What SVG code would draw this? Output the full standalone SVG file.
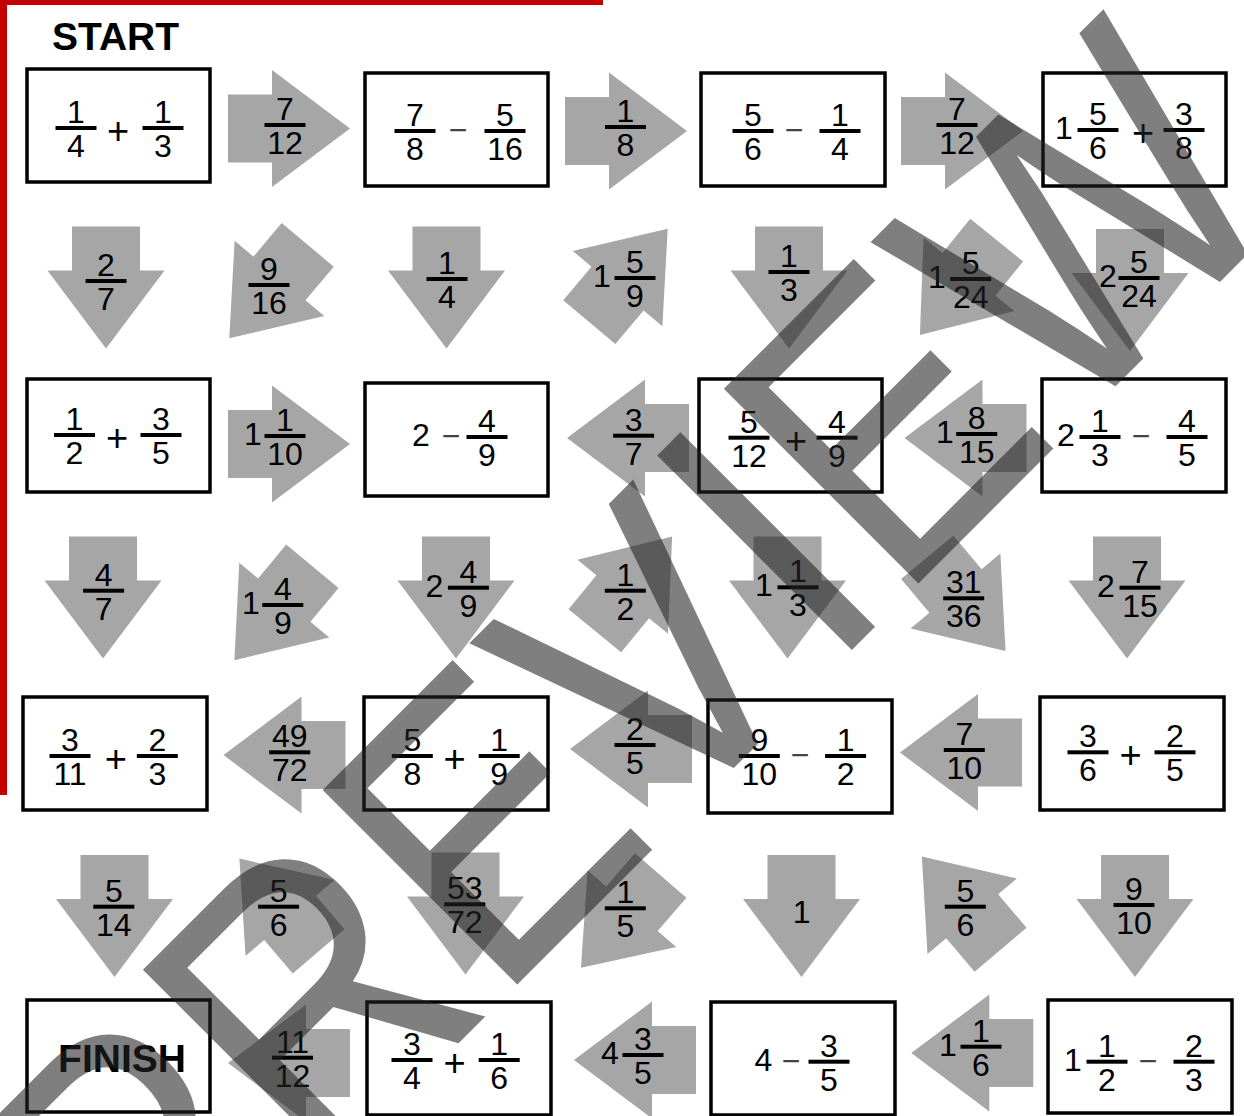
<svg xmlns="http://www.w3.org/2000/svg" xmlns:xlink="http://www.w3.org/1999/xlink" width="1244" height="1116" viewBox="0 0 1244 1116">
<style>
text{font-family:"Liberation Sans",Arial,sans-serif;font-size:32px;text-anchor:middle;fill:#000}
.bx{fill:#fff;stroke:#000;stroke-width:3.5}
.ar{fill:#a6a6a6}
.mn{fill:#444}
.pl{font-size:38px}
.h{font-weight:bold;font-size:39px}
.wm{font-size:400px;text-anchor:start;fill:#222;fill-opacity:0.58}
</style>
<defs>
<path id="ar" d="M-61,-34H-17V-58.5L61,0L-17,58.5V34H-61Z"/>
<rect id="fb" x="-20.5" y="-2" width="41" height="4" fill="#000"/>
</defs>
<rect width="1244" height="1116" fill="#fff"/>
<g id="border" fill="#c40000"><rect x="0" y="0" width="603" height="5"/><rect x="0" y="0" width="7" height="795"/></g>
<text id="start" class="h" x="52" y="50" style="text-anchor:start">START</text>

<g id="connectors">
<g id="a1"><use href="#ar" class="ar" transform="translate(289,128.5)"/><g transform="translate(285,125)"><use href="#fb"/><text y="-5">7</text><text y="29">12</text></g></g>
<g id="a2"><use href="#ar" class="ar" transform="translate(626,131)"/><g transform="translate(625.5,127)"><use href="#fb"/><text y="-5">1</text><text y="29">8</text></g></g>
<g id="a3"><use href="#ar" class="ar" transform="translate(962,131)"/><g transform="translate(957,125)"><use href="#fb"/><text y="-5">7</text><text y="29">12</text></g></g>
<g id="a4"><use href="#ar" class="ar" transform="translate(106,287.5) rotate(90)"/><g transform="translate(106,281)"><use href="#fb"/><text y="-5">2</text><text y="29">7</text></g></g>
<g id="a5"><use href="#ar" class="ar" transform="translate(268.5,291.5) rotate(130)"/><g transform="translate(269,285)"><use href="#fb"/><text y="-5">9</text><text y="29">16</text></g></g>
<g id="a6"><use href="#ar" class="ar" transform="translate(446.5,287.5) rotate(90)"/><g transform="translate(447,279)"><use href="#fb"/><text y="-5">1</text><text y="29">4</text></g></g>
<g id="a7"><use href="#ar" class="ar" transform="translate(628.5,275.5) rotate(-50)"/><text x="602" y="287">1</text><g transform="translate(635,278)"><use href="#fb"/><text y="-5">5</text><text y="29">9</text></g></g>
<g id="a8"><use href="#ar" class="ar" transform="translate(789,287.5) rotate(90)"/><g transform="translate(789,272)"><use href="#fb"/><text y="-5">1</text><text y="29">3</text></g></g>
<g id="a9"><use href="#ar" class="ar" transform="translate(958.3,287.5) rotate(129)"/><text x="937" y="288">1</text><g transform="translate(970.7,279)"><use href="#fb"/><text y="-5">5</text><text y="29">24</text></g></g>
<g id="a10"><use href="#ar" class="ar" transform="translate(1130,290) rotate(90)"/><text x="1108" y="287">2</text><g transform="translate(1139,278)"><use href="#fb"/><text y="-5">5</text><text y="29">24</text></g></g>
<g id="a11"><use href="#ar" class="ar" transform="translate(289,444)"/><text x="253" y="445">1</text><g transform="translate(285,436)"><use href="#fb"/><text y="-5">1</text><text y="29">10</text></g></g>
<g id="a12"><use href="#ar" class="ar" transform="translate(628,438) rotate(180)"/><g transform="translate(633.6,435.7)"><use href="#fb"/><text y="-5">3</text><text y="29">7</text></g></g>
<g id="a13"><use href="#ar" class="ar" transform="translate(965.5,438) rotate(180)"/><text x="945" y="443">1</text><g transform="translate(976.7,434)"><use href="#fb"/><text y="-5">8</text><text y="29">15</text></g></g>
<g id="a14"><use href="#ar" class="ar" transform="translate(103,597.5) rotate(90)"/><g transform="translate(103.6,590.7)"><use href="#fb"/><text y="-5">4</text><text y="29">7</text></g></g>
<g id="a15"><use href="#ar" class="ar" transform="translate(273.4,613.2) rotate(129.7)"/><text x="251" y="614">1</text><g transform="translate(282.8,605)"><use href="#fb"/><text y="-5">4</text><text y="29">9</text></g></g>
<g id="a16"><use href="#ar" class="ar" transform="translate(456,597.5) rotate(90)"/><text x="434.4" y="596.7">2</text><g transform="translate(468.4,587.7)"><use href="#fb"/><text y="-5">4</text><text y="29">9</text></g></g>
<g id="a17"><use href="#ar" class="ar" transform="translate(633.5,583.6) rotate(-50.7)"/><g transform="translate(625.3,590.7)"><use href="#fb"/><text y="-5">1</text><text y="29">2</text></g></g>
<g id="a18"><use href="#ar" class="ar" transform="translate(787.5,597.5) rotate(90)"/><text x="764" y="596.3">1</text><g transform="translate(798,587.3)"><use href="#fb"/><text y="-5">1</text><text y="29">3</text></g></g>
<g id="a19"><use href="#ar" class="ar" transform="translate(966.4,604.1) rotate(50.1)"/><g transform="translate(963.7,598.3)"><use href="#fb"/><text y="-5">31</text><text y="29">36</text></g></g>
<g id="a20"><use href="#ar" class="ar" transform="translate(1127,597.5) rotate(90)"/><text x="1106" y="596.7">2</text><g transform="translate(1140,587.7)"><use href="#fb"/><text y="-5">7</text><text y="29">15</text></g></g>
<g id="a21"><use href="#ar" class="ar" transform="translate(284.5,755) rotate(180)"/><g transform="translate(289.7,752.3)"><use href="#fb"/><text y="-5">49</text><text y="29">72</text></g></g>
<g id="a22"><use href="#ar" class="ar" transform="translate(631,749) rotate(180)"/><g transform="translate(635,745)"><use href="#fb"/><text y="-5">2</text><text y="29">5</text></g></g>
<g id="a23"><use href="#ar" class="ar" transform="translate(961,752.5) rotate(180)"/><g transform="translate(964.3,750)"><use href="#fb"/><text y="-5">7</text><text y="29">10</text></g></g>
<g id="a24"><use href="#ar" class="ar" transform="translate(114.5,916) rotate(90)"/><g transform="translate(113.8,906.7)"><use href="#fb"/><text y="-5">5</text><text y="29">14</text></g></g>
<g id="a25"><use href="#ar" class="ar" transform="translate(279,905) rotate(-130.5)"/><g transform="translate(278.6,906.7)"><use href="#fb"/><text y="-5">5</text><text y="29">6</text></g></g>
<g id="a26"><use href="#ar" class="ar" transform="translate(465.5,913.5) rotate(90)"/><g transform="translate(464.8,904.3)"><use href="#fb"/><text y="-5">53</text><text y="29">72</text></g></g>
<g id="a27"><use href="#ar" class="ar" transform="translate(620.8,921.6) rotate(130.8)"/><g transform="translate(625.3,908.3)"><use href="#fb"/><text y="-5">1</text><text y="29">5</text></g></g>
<g id="a28"><use href="#ar" class="ar" transform="translate(801.5,916) rotate(90)"/><text x="801.6" y="923">1</text></g>
<g id="a29"><use href="#ar" class="ar" transform="translate(961.2,903.2) rotate(-130.2)"/><g transform="translate(965.3,906.7)"><use href="#fb"/><text y="-5">5</text><text y="29">6</text></g></g>
<g id="a30"><use href="#ar" class="ar" transform="translate(1135,916) rotate(90)"/><g transform="translate(1134,905)"><use href="#fb"/><text y="-5">9</text><text y="29">10</text></g></g>
<g id="a31"><use href="#ar" class="ar" transform="translate(289,1063) rotate(180)"/><g transform="translate(292.5,1057.7)"><use href="#fb"/><text y="-5">11</text><text y="29">12</text></g></g>
<g id="a32"><use href="#ar" class="ar" transform="translate(635,1060) rotate(180)"/><text x="610" y="1064">4</text><g transform="translate(643,1055)"><use href="#fb"/><text y="-5">3</text><text y="29">5</text></g></g>
<g id="a33"><use href="#ar" class="ar" transform="translate(972.3,1053) rotate(180)"/><text x="948" y="1055.7">1</text><g transform="translate(981,1046.7)"><use href="#fb"/><text y="-5">1</text><text y="29">6</text></g></g>
</g>

<g id="n1"><rect class="bx" x="27" y="69" width="183" height="113"/><g transform="translate(76,128)"><use href="#fb"/><text y="-5">1</text><text y="29">4</text></g><text class="pl" x="118" y="144">+</text><g transform="translate(163,128)"><use href="#fb"/><text y="-5">1</text><text y="29">3</text></g></g>
<g id="n2"><rect class="bx" x="365" y="73" width="183" height="113"/><g transform="translate(415,131)"><use href="#fb"/><text y="-5">7</text><text y="29">8</text></g><text class="mn" x="458" y="141">−</text><g transform="translate(505,131)"><use href="#fb"/><text y="-5">5</text><text y="29">16</text></g></g>
<g id="n3"><rect class="bx" x="701" y="73" width="184" height="113"/><g transform="translate(753,131)"><use href="#fb"/><text y="-5">5</text><text y="29">6</text></g><text class="mn" x="794" y="141">−</text><g transform="translate(840,131)"><use href="#fb"/><text y="-5">1</text><text y="29">4</text></g></g>
<g id="n4"><rect class="bx" x="1043" y="73" width="183" height="113"/><text x="1064" y="139">1</text><g transform="translate(1098,130)"><use href="#fb"/><text y="-5">5</text><text y="29">6</text></g><text class="pl" x="1143" y="146">+</text><g transform="translate(1184,130)"><use href="#fb"/><text y="-5">3</text><text y="29">8</text></g></g>
<g id="n5"><rect class="bx" x="27" y="379" width="183" height="113"/><g transform="translate(74.5,435)"><use href="#fb"/><text y="-5">1</text><text y="29">2</text></g><text class="pl" x="117" y="451">+</text><g transform="translate(161,435)"><use href="#fb"/><text y="-5">3</text><text y="29">5</text></g></g>
<g id="n6"><rect class="bx" x="365" y="383" width="183" height="113"/><text x="421" y="446">2</text><text class="mn" x="451" y="447">−</text><g transform="translate(487,437)"><use href="#fb"/><text y="-5">4</text><text y="29">9</text></g></g>
<g id="n7"><rect class="bx" x="699" y="379" width="183" height="113"/><g transform="translate(749,437.7)"><use href="#fb"/><text y="-5">5</text><text y="29">12</text></g><text class="pl" x="796" y="453.7">+</text><g transform="translate(837,437.7)"><use href="#fb"/><text y="-5">4</text><text y="29">9</text></g></g>
<g id="n8"><rect class="bx" x="1042" y="379" width="184" height="113"/><text x="1066" y="446">2</text><g transform="translate(1100,437)"><use href="#fb"/><text y="-5">1</text><text y="29">3</text></g><text class="mn" x="1141" y="447">−</text><g transform="translate(1187,437)"><use href="#fb"/><text y="-5">4</text><text y="29">5</text></g></g>
<g id="n9"><rect class="bx" x="23" y="697" width="184" height="113"/><g transform="translate(70,756)"><use href="#fb"/><text y="-5">3</text><text y="29">11</text></g><text class="pl" x="115.8" y="772">+</text><g transform="translate(157.3,756)"><use href="#fb"/><text y="-5">2</text><text y="29">3</text></g></g>
<g id="n10"><rect class="bx" x="364" y="697" width="184" height="113"/><g transform="translate(412.3,756)"><use href="#fb"/><text y="-5">5</text><text y="29">8</text></g><text class="pl" x="454.5" y="772">+</text><g transform="translate(499.2,756)"><use href="#fb"/><text y="-5">1</text><text y="29">9</text></g></g>
<g id="n11"><rect class="bx" x="708" y="700" width="184" height="113"/><g transform="translate(759.3,756)"><use href="#fb"/><text y="-5">9</text><text y="29">10</text></g><text class="mn" x="800" y="766">−</text><g transform="translate(845.6,756)"><use href="#fb"/><text y="-5">1</text><text y="29">2</text></g></g>
<g id="n12"><rect class="bx" x="1040" y="697" width="184" height="113"/><g transform="translate(1088,752.3)"><use href="#fb"/><text y="-5">3</text><text y="29">6</text></g><text class="pl" x="1130.6" y="768.3">+</text><g transform="translate(1175,752.3)"><use href="#fb"/><text y="-5">2</text><text y="29">5</text></g></g>
<g id="n13"><rect class="bx" x="27" y="1000" width="183" height="112"/><text class="h" x="122" y="1072">FINISH</text></g>
<g id="n14"><rect class="bx" x="367" y="1002" width="184" height="113"/><g transform="translate(412,1060)"><use href="#fb"/><text y="-5">3</text><text y="29">4</text></g><text class="pl" x="454.5" y="1076">+</text><g transform="translate(499.2,1060)"><use href="#fb"/><text y="-5">1</text><text y="29">6</text></g></g>
<g id="n15"><rect class="bx" x="711" y="1002" width="184" height="113"/><text x="763.5" y="1070.7">4</text><text class="mn" x="791" y="1071.7">−</text><g transform="translate(829,1061.7)"><use href="#fb"/><text y="-5">3</text><text y="29">5</text></g></g>
<g id="n16"><rect class="bx" x="1048" y="1000" width="184" height="113"/><text x="1073" y="1070.7">1</text><g transform="translate(1107,1061.7)"><use href="#fb"/><text y="-5">1</text><text y="29">2</text></g><text class="mn" x="1148" y="1071.7">−</text><g transform="translate(1194,1061.7)"><use href="#fb"/><text y="-5">2</text><text y="29">3</text></g></g>

<text id="watermark" class="wm" x="-964" y="1062" transform="rotate(-45) scale(0.88 1)">PREVIEW</text>
</svg>
